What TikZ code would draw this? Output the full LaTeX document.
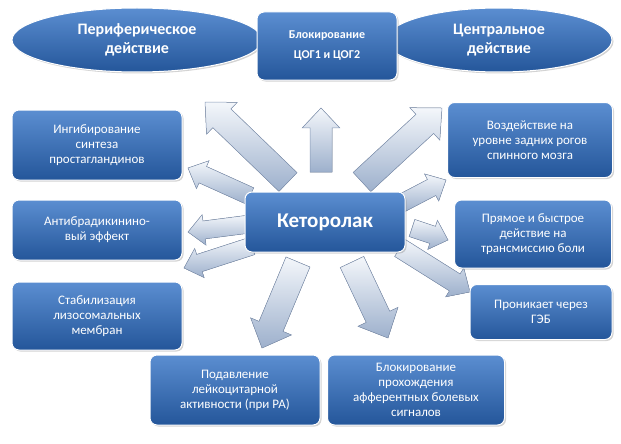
\documentclass[tikz,border=0pt]{standalone}
\usepackage{fontspec}
\setmainfont{Carlito}
\usetikzlibrary{calc,shadows,shapes.geometric}

\definecolor{boxtop}{HTML}{5B8ED1}
\definecolor{boxbot}{HTML}{24569A}
\definecolor{arrtop}{HTML}{F4F7FB}
\definecolor{arrbot}{HTML}{9DB0CC}
\definecolor{arredge}{HTML}{8497B5}

\tikzset{
  box/.style={rounded corners=7pt, top color=boxtop, bottom color=boxbot,
    draw=white, line width=1pt, text=white, align=center,
    font=\fontsize{13}{15}\selectfont, inner sep=3pt,
    drop shadow={opacity=0.35, shadow xshift=1.5pt, shadow yshift=-1.5pt}},
  oval/.style={ellipse, top color=boxtop, bottom color=boxbot,
    draw=white, line width=1pt, text=white, align=center,
    font=\fontsize{16}{19}\selectfont\bfseries,
    drop shadow={opacity=0.35, shadow xshift=1.5pt, shadow yshift=-1.5pt}},
  bigarr/.style={top color=arrtop, bottom color=arrbot, draw=arredge, line width=0.5pt}
}

% block arrow from #1 to #2, shaft half width #3 (pt)
\newcommand\bigarrow[3]{%
  \filldraw[bigarr] let \p1=(#1), \p2=(#2),
    \n1={atan2(\y2-\y1,\x2-\x1)}, \n2={veclen(\x2-\x1,\y2-\y1)} in
    [shift={(\p1)}, rotate=\n1]
    (0pt,-#3pt) -- ({\n2-1.8*#3pt},-#3pt) -- ({\n2-1.8*#3pt},{-1.7*#3pt})
    -- (\n2,0pt) -- ({\n2-1.8*#3pt},{1.7*#3pt}) -- ({\n2-1.8*#3pt},#3pt)
    -- (0pt,#3pt) -- cycle;}

\begin{document}
\begin{tikzpicture}[x=1pt,y=-1pt]
  \useasboundingbox (0,0) rectangle (621,444);

  % arrows first, boxes on top
  \coordinate (c0) at (321,172); \coordinate (h0) at (321,108);
  \coordinate (c1) at (288,182); \coordinate (h1) at (205,102);
  \coordinate (c2) at (362,182); \coordinate (h2) at (442,108);
  \coordinate (c3) at (250,196); \coordinate (h3) at (188,168);
  \coordinate (c4) at (250,224); \coordinate (h4) at (188,232);
  \coordinate (c5) at (252,246); \coordinate (h5) at (184,268);
  \coordinate (c6) at (298,262); \coordinate (h6) at (262,348);
  \coordinate (c7) at (352,262); \coordinate (h7) at (388,338);
  \coordinate (c8) at (400,204); \coordinate (h8) at (446,180);
  \coordinate (c9) at (412,228); \coordinate (h9) at (448,240);
  \coordinate (c10) at (400,248); \coordinate (h10) at (470,292);
  \bigarrow{c0}{h0}{11}
  \bigarrow{c1}{h1}{13}
  \bigarrow{c2}{h2}{13}
  \bigarrow{c3}{h3}{9}
  \bigarrow{c4}{h4}{9}
  \bigarrow{c5}{h5}{9}
  \bigarrow{c6}{h6}{13}
  \bigarrow{c7}{h7}{13}
  \bigarrow{c8}{h8}{9}
  \bigarrow{c9}{h9}{9}
  \bigarrow{c10}{h10}{10}

  \node[oval, minimum width=250, minimum height=64] (periph) at (137,40) {Периферическое\\действие};
  \node[oval, minimum width=226, minimum height=64] (central) at (499,40) {Центральное\\действие};
  \node[box, minimum width=140, minimum height=68, font=\fontsize{12}{20}\selectfont\bfseries] (cog) at (327,46) {Блокирование\\ЦОГ1 и ЦОГ2};
  \node[box, minimum width=160, minimum height=60, font=\fontsize{21}{24}\selectfont\bfseries] (keto) at (325,222) {Кеторолак};
  \node[box, minimum width=170, minimum height=70] (ing) at (97,145) {Ингибирование\\синтеза\\простагландинов};
  \node[box, minimum width=170, minimum height=60] (anti) at (97,230) {Антибрадикинино-\\вый эффект};
  \node[box, minimum width=170, minimum height=68] (stab) at (97,316) {Стабилизация\\лизосомальных\\мембран};
  \node[box, minimum width=170, minimum height=70] (podav) at (235,390) {Подавление\\лейкоцитарной\\активности (при РА)};
  \node[box, minimum width=177, minimum height=70] (blok) at (416,390) {Блокирование\\прохождения\\афферентных болевых\\сигналов};
  \node[box, minimum width=165, minimum height=75] (vozd) at (530,140) {Воздействие на\\уровне задних рогов\\спинного мозга};
  \node[box, minimum width=157, minimum height=68] (pryam) at (533,234) {Прямое и быстрое\\действие на\\трансмиссию боли};
  \node[box, minimum width=142, minimum height=55] (pron) at (541,312) {Проникает через\\ГЭБ};
\end{tikzpicture}
\end{document}
